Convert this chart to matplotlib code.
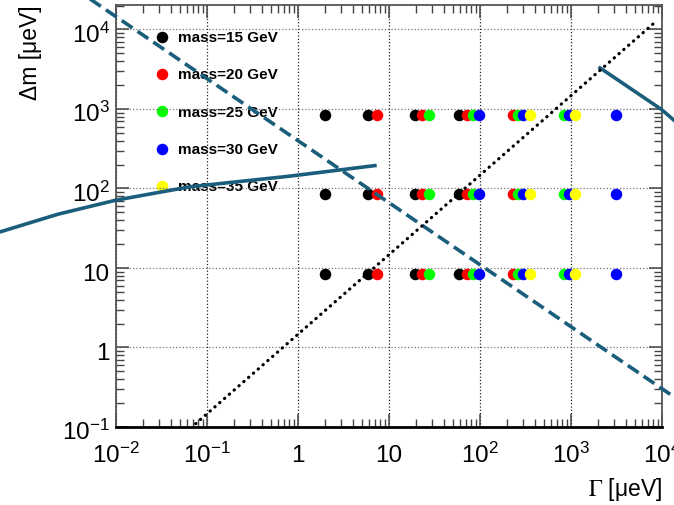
import numpy as np
import matplotlib.pyplot as plt
from matplotlib.transforms import ScaledTranslation

plt.rcParams['font.family'] = ['Liberation Sans', 'DejaVu Sans']
plt.rcParams['mathtext.fontset'] = 'stix'

# Gamma values of the scan points, one list per mass
gamma_15 = [1.98, 5.93, 19.3, 59.3]
gamma_20 = [7.33, 22.8, 72.6, 228]
gamma_25 = [27.3, 83.2, 263, 843]
gamma_30 = [98.4, 296, 940, 3126]
gamma_35 = [354, 1114]
dm_rows = [8.4, 84, 840]

masses = [15, 20, 25, 30, 35]
mass_colors = ['black', 'red', '#00ff00', 'blue', 'yellow']

# limit curves
gamma_lo = [5.3e-4, 2.31e-3, 0.01, 0.065, 0.817, 7.0]
dm_lo = [28.4, 47.5, 71.3, 105, 143, 194]
gamma_hi = [2084, 4446, 9930, 13560]
dm_hi = [3283, 1828, 980, 720]
gamma_dash = [4.5e-3, 1.6e4]
dm_dash = [2.7e4, 0.21]
gamma_dot = [0.075, 8500]
dm_dot = [0.11, 12500]

xticks = [1e-2, 1e-1, 1, 10, 1e2, 1e3, 1e4]
xtick_labels = [r'$\mathdefault{10^{-2}}$', r'$\mathdefault{10^{-1}}$', '1', '10',
                r'$\mathdefault{10^{2}}$', r'$\mathdefault{10^{3}}$', r'$\mathdefault{10^{4}}$']
yticks = [1e-1, 1, 10, 1e2, 1e3, 1e4]
ytick_labels = [r'$\mathdefault{10^{-1}}$', '1', '10',
                r'$\mathdefault{10^{2}}$', r'$\mathdefault{10^{3}}$', r'$\mathdefault{10^{4}}$']

line_col = '#1b5e7b'

fig = plt.figure(figsize=(6.74, 5.05), dpi=100)
ax = fig.add_axes([116 / 674, 1 - 427 / 505, 546 / 674, 422 / 505])
ax.set_xscale('log')
ax.set_yscale('log')
ax.set_xlim(1e-2, 1e4)
ax.set_ylim(0.1, 2.03e4)

for gam, m, c in zip([gamma_15, gamma_20, gamma_25, gamma_30, gamma_35], masses, mass_colors):
    gx = np.tile(gam, len(dm_rows))
    gy = np.repeat(dm_rows, len(gam))
    ax.plot(gx, gy, 'o', color=c, markersize=8.3, markeredgewidth=0,
            label='mass=%i GeV' % m, zorder=2)

ax.plot(gamma_lo, dm_lo, '-', color=line_col, lw=2.6, clip_on=False, zorder=3)
ax.plot(gamma_hi, dm_hi, '-', color=line_col, lw=2.6, clip_on=False, zorder=3)
ax.plot(gamma_dash, dm_dash, '--', color=line_col, lw=2.6, dashes=(3.6, 1.7),
        clip_on=False, zorder=3)
ax.plot(gamma_dot, dm_dot, color='black', lw=2.3, dashes=(0.1, 1.9),
        dash_capstyle='round', zorder=3)

ax.set_xticks(xticks)
ax.set_xticklabels(xtick_labels)
ax.set_yticks(yticks)
ax.set_yticklabels(ytick_labels)

ax.tick_params(which='both', direction='in', top=True, right=True,
               color='#444444', labelsize=17.5)
ax.tick_params(which='major', length=9.5, width=1.1)
ax.tick_params(which='minor', length=5.5, width=1.0)
ax.tick_params(axis='x', pad=25.5)
ax.tick_params(axis='y', pad=4.5)

for lab in ax.get_xticklabels():
    lab.set_va('baseline')
for lab in ax.get_yticklabels():
    lab.set_va('baseline')
    lab.set_transform(lab.get_transform() + ScaledTranslation(0, -0.13, fig.dpi_scale_trans))

ax.grid(True, which='major', axis='x', linestyle=':', color='#222222', lw=0.9)
ax.grid(True, which='major', axis='y', linestyle=':', color='#777777', lw=0.9)

for side in ['left', 'top', 'right']:
    ax.spines[side].set_color('#555555')
    ax.spines[side].set_linewidth(1.3)
ax.spines['bottom'].set_color('black')
ax.spines['bottom'].set_linewidth(2.0)

ax.set_xlabel(r'$\Gamma$ [μeV]', fontsize=16.5, loc='right')
ax.xaxis.set_label_coords(1.0, -0.117)
ax.set_ylabel('Δm [μeV]', fontsize=16.5, loc='top')
ax.yaxis.set_label_coords(-0.1355, 1.0)

leg = ax.legend(loc='upper left', bbox_to_anchor=(0.0733, 0.9385), frameon=False,
                prop={'weight': 'bold', 'size': 11}, handlelength=0.8,
                handletextpad=0.65, labelspacing=1.53, borderpad=0, borderaxespad=0)
leg.set_zorder(1)

fig.savefig('out.png', dpi=100)
